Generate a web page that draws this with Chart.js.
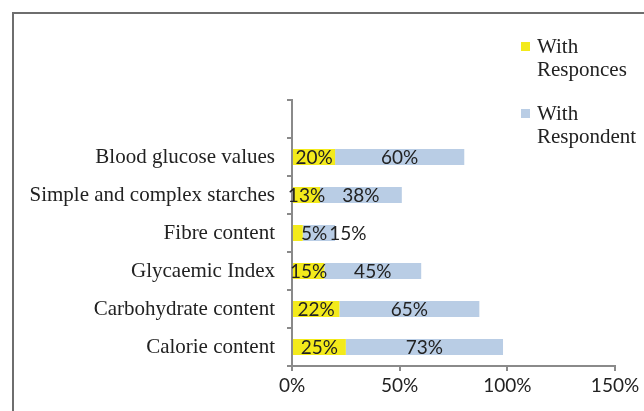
<!DOCTYPE html>
<html lang="en">
<head>
<meta charset="UTF-8">
<title>Responses chart</title>
<script src="https://cdn.jsdelivr.net/npm/chart.js"></script>
<style>
  html, body { margin: 0; padding: 0; background: #fff; }
  .wrap { position: relative; width: 644px; height: 411px; overflow: hidden; }
  .frame { position: absolute; left: 12px; top: 12px; width: 700px; height: 500px;
           border-left: 2px solid #6e6e6e; border-top: 2px solid #6e6e6e; }
  canvas { position: absolute; left: 0; top: 0; }
  .legend { position: absolute; left: 521px; top: 35px; font-family: 'Liberation Serif', serif;
            font-size: 21px; line-height: 23px; color: #222; }
  .legend .item { position: relative; padding-left: 16px; margin-bottom: 21px; }
  .legend .box { position: absolute; left: 0; top: 7px; width: 9px; height: 9px; }
</style>
</head>
<body>
<div class="wrap">
  <div class="frame"></div>
  <canvas id="chart" width="644" height="411"></canvas>
  <div class="legend" id="legend"></div>
</div>
<script>
  // categories (top slot is empty in the original)
  const categories = ['', 'Blood glucose values', 'Simple and complex starches', 'Fibre content',
                      'Glycaemic Index', 'Carbohydrate content', 'Calorie content'];
  const withResponces = [null, 20, 13, 5, 15, 22, 25];
  const withRespondent = [null, 60, 38, 15, 45, 65, 73];
  const seriesNames = [['With', 'Responces'], ['With', 'Respondent']];
  const xTicks = [0, 50, 100, 150];

  const colors = { yellow: '#F3EA1B', blue: '#B9CDE5', axis: '#8a8a8a', text: '#222' };

  // data labels, pushed right when they would overlap
  const labelPlugin = {
    id: 'segLabels',
    afterDatasetsDraw(chart) {
      const ctx = chart.ctx;
      ctx.save();
      ctx.font = '19px Lato, sans-serif';
      ctx.fillStyle = colors.text;
      ctx.textBaseline = 'middle';
      ctx.textAlign = 'left';
      const n = chart.data.labels.length;
      for (let i = 0; i < n; i++) {
        let lastRight = -Infinity;
        chart.data.datasets.forEach((ds, di) => {
          const v = ds.data[i];
          if (v == null) return;
          const bar = chart.getDatasetMeta(di).data[i];
          const txt = v + '%';
          const w = ctx.measureText(txt).width;
          const segW = Math.abs(bar.x - bar.base);
          let left = (bar.base + bar.x) / 2 - w / 2;
          if (segW < w / 2) left = Math.min(bar.base, bar.x) + 8;
          if (left < lastRight + 2) left = lastRight + 2;
          ctx.fillText(txt, left, bar.y + 1);
          lastRight = left + w;
        });
      }
      ctx.restore();
    }
  };

  new Chart(document.getElementById('chart'), {
    type: 'bar',
    data: {
      labels: categories,
      datasets: [
        { label: seriesNames[0].join(' '), data: withResponces, backgroundColor: colors.yellow,
          barPercentage: 0.42, categoryPercentage: 1 },
        { label: seriesNames[1].join(' '), data: withRespondent, backgroundColor: colors.blue,
          barPercentage: 0.42, categoryPercentage: 1 }
      ]
    },
    options: {
      indexAxis: 'y',
      responsive: false,
      animation: false,
      layout: { padding: { left: 0, right: 29, top: 100, bottom: 0 } },
      plugins: { legend: { display: false }, tooltip: { enabled: false } },
      scales: {
        x: {
          stacked: true, min: 0, max: 150,
          afterBuildTicks: s => { s.ticks = xTicks.map(v => ({ value: v })); },
          afterFit: s => { s.height = 45; },
          border: { color: colors.axis, width: 2 },
          grid: { drawOnChartArea: false, color: colors.axis, tickLength: 5, lineWidth: 2 },
          ticks: { color: colors.text, font: { family: 'Lato', size: 19 }, padding: 3,
                   callback: v => v + '%' }
        },
        y: {
          stacked: true,
          afterFit: s => { s.width = 292; },
          border: { color: colors.axis, width: 2 },
          grid: { drawOnChartArea: false, color: colors.axis, tickLength: 5, lineWidth: 2 },
          ticks: { color: colors.text, font: { family: 'Liberation Serif', size: 21 }, padding: 12 }
        }
      }
    },
    plugins: [labelPlugin]
  });

  // legend
  const legend = document.getElementById('legend');
  [colors.yellow, colors.blue].forEach((c, i) => {
    const item = document.createElement('div');
    item.className = 'item';
    item.innerHTML = '<span class="box" style="background:' + c + '"></span>' + seriesNames[i].join('<br>');
    legend.appendChild(item);
  });
</script>
</body>
</html>
